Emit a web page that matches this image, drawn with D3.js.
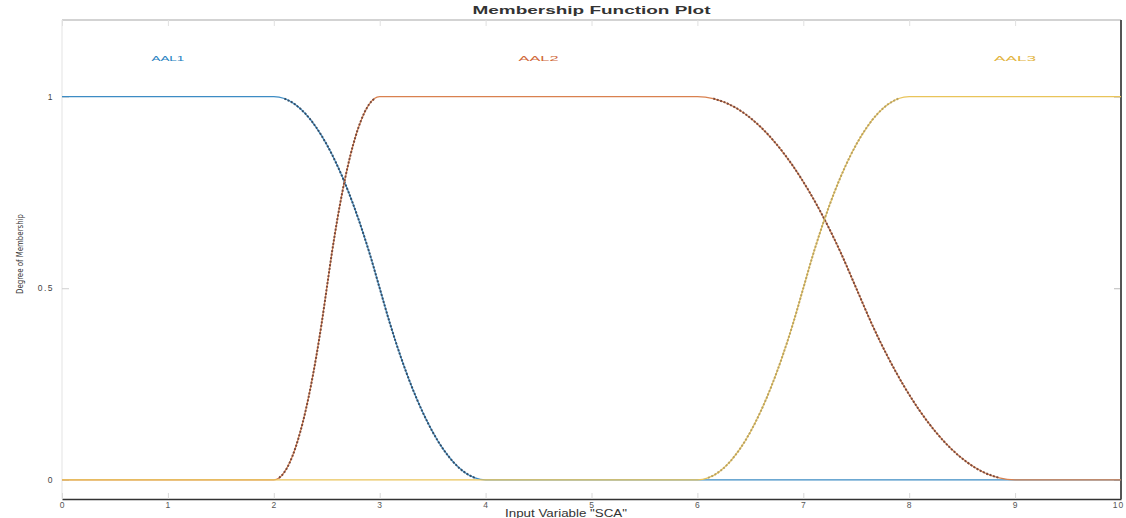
<!DOCTYPE html>
<html>
<head>
<meta charset="utf-8">
<script src="https://cdn.jsdelivr.net/npm/d3@7"></script>
<style>
  html, body { margin: 0; padding: 0; background: #fff; }
  svg { display: block; }
</style>
</head>
<body>
<svg id="chart" width="1126" height="518"></svg>
<script>
// ---- data ----
const title = "Membership Function Plot";
const xLabel = "Input Variable \"SCA\"";
const yLabel = "Degree of Membership";
const xTicks = [0, 1, 2, 3, 4, 5, 6, 7, 8, 9, 10];
const yTicks = [0, 0.5, 1];
const mfNames = ["AAL1", "AAL2", "AAL3"];
const mfLabelX = [1, 4.5, 9];
const mfLabelY = [1.1, 1.1, 1.1];

const aal1X = [0, 2.0, 2.1, 2.2, 2.3, 2.4, 2.5, 2.6, 2.7, 2.8, 2.9, 3.0, 3.1, 3.2, 3.3, 3.4, 3.5, 3.6, 3.7, 3.8, 3.9, 4.0, 10];
const aal1Y = [1, 1, 0.995, 0.98, 0.955, 0.92, 0.875, 0.82, 0.755, 0.68, 0.595, 0.5, 0.405, 0.32, 0.245, 0.18, 0.125, 0.08, 0.045, 0.02, 0.005, 0, 0];

const aal2X = [0, 2.0, 2.05, 2.1, 2.15, 2.2, 2.25, 2.3, 2.35, 2.4, 2.45, 2.5, 2.55, 2.6, 2.65, 2.7, 2.75, 2.8, 2.85, 2.9, 2.95, 3.0,
               6.0, 6.15, 6.3, 6.45, 6.6, 6.75, 6.9, 7.05, 7.2, 7.35, 7.5, 7.65, 7.8, 7.95, 8.1, 8.25, 8.4, 8.55, 8.7, 8.85, 9.0, 10];
const aal2Y = [0, 0, 0.005, 0.02, 0.045, 0.08, 0.125, 0.18, 0.245, 0.32, 0.405, 0.5, 0.595, 0.68, 0.755, 0.82, 0.875, 0.92, 0.955, 0.98, 0.995, 1,
               1, 0.995, 0.98, 0.955, 0.92, 0.875, 0.82, 0.755, 0.68, 0.595, 0.5, 0.405, 0.32, 0.245, 0.18, 0.125, 0.08, 0.045, 0.02, 0.005, 0, 0];

const aal3X = [0, 6.0, 6.1, 6.2, 6.3, 6.4, 6.5, 6.6, 6.7, 6.8, 6.9, 7.0, 7.1, 7.2, 7.3, 7.4, 7.5, 7.6, 7.7, 7.8, 7.9, 8.0, 10];
const aal3Y = [0, 0, 0.005, 0.02, 0.045, 0.08, 0.125, 0.18, 0.245, 0.32, 0.405, 0.5, 0.595, 0.68, 0.755, 0.82, 0.875, 0.92, 0.955, 0.98, 0.995, 1, 1];

const seriesColors = ["#3d8cc4", "#d9814f", "#e9c45a"];
const seriesDark = ["#34506a", "#7b4a3c", "#b9a263"];
const labelColors = ["#1f7fc0", "#d0683a", "#e2b440"];

// ---- layout ----
const svg = d3.select("#chart");
const mLeft = 62, mRight = 1121, mTop = 20, mBottom = 499;

const x = d3.scaleLinear().domain([0, 10]).range([mLeft, mRight]);
const y = d3.scaleLinear().domain([-0.05, 1.2]).range([mBottom, mTop]);

const series = [
  aal1X.map((v, i) => ({x: v, y: aal1Y[i]})),
  aal2X.map((v, i) => ({x: v, y: aal2Y[i]})),
  aal3X.map((v, i) => ({x: v, y: aal3Y[i]}))
];

// frame
svg.append("line").attr("x1", mLeft).attr("x2", mRight).attr("y1", mTop).attr("y2", mTop)
  .attr("stroke", "#c4c4c4").attr("stroke-width", 1.5);
svg.append("line").attr("x1", mLeft).attr("x2", mLeft).attr("y1", mTop).attr("y2", mBottom)
  .attr("stroke", "#ececec").attr("stroke-width", 1.5);

// axes
const ax = svg.append("g").attr("transform", `translate(0,${mBottom})`)
  .call(d3.axisBottom(x).tickValues(xTicks).tickFormat(d3.format("d")).tickSizeInner(-6).tickSizeOuter(0).tickPadding(3));
ax.select(".domain").attr("stroke", "#333").attr("stroke-width", 1.5);
ax.selectAll(".tick line").attr("stroke", "#d8d8d8");
ax.selectAll("text").attr("font-family", "Liberation Sans, Arial, sans-serif").attr("font-size", 8.5)
  .attr("fill", "#555").style("letter-spacing", "1px");
ax.selectAll(".tick").filter(d => d === 10).select("text").attr("dx", -3);

const axT = svg.append("g").attr("transform", `translate(0,${mTop})`)
  .call(d3.axisTop(x).tickValues(xTicks).tickFormat("").tickSizeInner(-6).tickSizeOuter(0));
axT.select(".domain").remove();
axT.selectAll(".tick line").attr("stroke", "#e0e0e0");

const ay = svg.append("g").attr("transform", `translate(${mLeft},0)`)
  .call(d3.axisLeft(y).tickValues(yTicks).tickFormat(d => d === 0.5 ? "0.5" : d3.format("d")(d)).tickSizeInner(-7).tickSizeOuter(0).tickPadding(8));
ay.select(".domain").remove();
ay.selectAll(".tick line").attr("stroke", "#cfcfcf");
ay.selectAll("text").attr("font-family", "Liberation Sans, Arial, sans-serif").attr("font-size", 8.5)
  .attr("fill", "#444").style("letter-spacing", "1.5px");

const ayR = svg.append("g").attr("transform", `translate(${mRight},0)`)
  .call(d3.axisRight(y).tickValues(yTicks).tickFormat("").tickSizeInner(-7).tickSizeOuter(0));
ayR.select(".domain").remove();
ayR.selectAll(".tick line").attr("stroke", "#bbb");

svg.append("line").attr("x1", mRight).attr("x2", mRight).attr("y1", mTop).attr("y2", mBottom)
  .attr("stroke", "#555").attr("stroke-width", 2);

// curves
const line = d3.line().x(d => x(d.x)).y(d => y(d.y)).curve(d3.curveMonotoneX);
const lineMid = d3.line().defined(d => d.y > 0.003 && d.y < 0.997)
  .x(d => x(d.x)).y(d => y(d.y)).curve(d3.curveMonotoneX);

series.forEach((s, i) => {
  svg.append("path").datum(s).attr("d", line)
    .attr("fill", "none").attr("stroke", seriesColors[i]).attr("stroke-width", 1.2);
  svg.append("path").datum(s).attr("d", lineMid)
    .attr("fill", "none").attr("stroke", seriesDark[i]).attr("stroke-width", 2)
    .attr("stroke-dasharray", "2,1.6");
});

// MF labels
const labelLen = [33, 40, 42];
mfNames.forEach((n, i) => {
  svg.append("text").attr("x", x(mfLabelX[i])).attr("y", y(mfLabelY[i]))
    .attr("dy", "0.35em").attr("text-anchor", "middle")
    .attr("font-family", "Liberation Sans, Arial, sans-serif").attr("font-size", 8)
    .attr("textLength", labelLen[i]).attr("lengthAdjust", "spacingAndGlyphs")
    .attr("fill", labelColors[i]).text(n);
});

// title and axis labels
svg.append("text").attr("x", (mLeft + mRight) / 2).attr("y", 14).attr("text-anchor", "middle")
  .attr("font-family", "Liberation Sans, Arial, sans-serif").attr("font-size", 10).attr("font-weight", "bold")
  .attr("textLength", 238).attr("lengthAdjust", "spacingAndGlyphs")
  .attr("fill", "#333").text(title);

svg.append("text").attr("x", 566).attr("y", 517).attr("text-anchor", "middle")
  .attr("font-family", "Liberation Sans, Arial, sans-serif").attr("font-size", 10)
  .attr("textLength", 122).attr("lengthAdjust", "spacingAndGlyphs")
  .attr("fill", "#333").text(xLabel);

svg.append("text").attr("transform", `translate(23,254) rotate(-90)`).attr("text-anchor", "middle")
  .attr("font-family", "Liberation Sans Narrow, DejaVu Sans Condensed, sans-serif").attr("font-size", 9)
  .attr("textLength", 80).attr("lengthAdjust", "spacingAndGlyphs")
  .attr("fill", "#333").text(yLabel);
</script>
</body>
</html>
